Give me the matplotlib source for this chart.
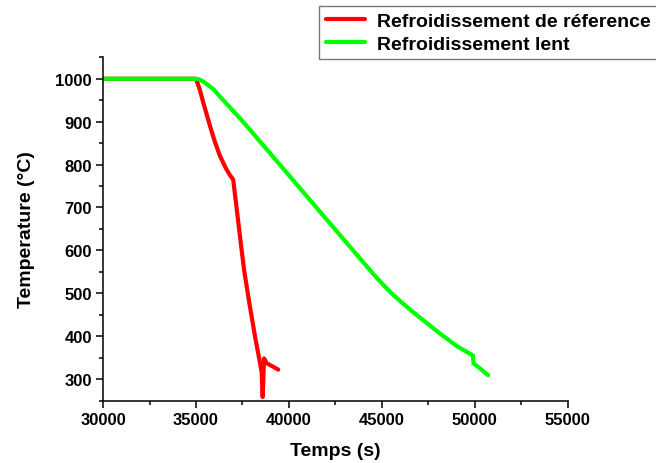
import matplotlib
matplotlib.use('Agg')
import matplotlib.pyplot as plt
from matplotlib.ticker import MultipleLocator

# cooling curves
ref_t = [30000, 35000, 35200, 35392, 35752, 36000, 36290, 36600, 36828, 37000,
         37150, 37365, 37580, 37866, 38172, 38441, 38533, 38587, 38660, 38800,
         39100, 39425]
ref_T = [1000, 1000, 975, 944, 890, 855, 820, 792, 775, 765,
         711, 633, 556, 478, 400, 338, 315, 258, 348, 337,
         330, 322]

slow_t = [30000, 34900, 35150, 35400, 35650, 35930, 36300, 36828, 37300, 37726,
          40057, 41848, 43646, 44500, 45000, 45500, 46000, 46600, 47229, 48100,
          49026, 49900, 49930, 50720]
slow_T = [1000, 1000, 999, 993, 985, 976, 958, 933, 911, 890,
          772, 681, 590, 547, 523, 501, 481, 459, 437, 407,
          377, 355, 337, 309]

labels = ['Refroidissement de réference', 'Refroidissement lent']

params = {
    'font.family': ['Liberation Sans', 'DejaVu Sans'],
    'font.weight': 'bold',
    'axes.labelweight': 'bold',
    'axes.linewidth': 1.1,
    'xtick.labelsize': 12,
    'ytick.labelsize': 12,
    'axes.labelsize': 14,
}
plt.rcParams.update(params)

fig = plt.figure(figsize=(6.56, 4.64), dpi=100)
ax = fig.add_axes([103.1 / 656, 1 - 401.5 / 464, (567.7 - 103.1) / 656, (401.5 - 58.3) / 464])

ax.plot(ref_t, ref_T, color='#ff0000', lw=3, label=labels[0],
        solid_capstyle='round', solid_joinstyle='round')
ax.plot(slow_t, slow_T, color='#00ff00', lw=3, label=labels[1],
        solid_capstyle='round', solid_joinstyle='round')

ax.set_xlim(30000, 55000)
ax.set_ylim(250, 1050)
ax.xaxis.set_major_locator(MultipleLocator(5000))
ax.xaxis.set_minor_locator(MultipleLocator(2500))
ax.set_yticks(range(300, 1001, 100))
ax.yaxis.set_minor_locator(MultipleLocator(50))
ax.tick_params(which='major', direction='out', length=5, width=1.1, pad=3)
ax.tick_params(which='minor', direction='out', length=3, width=1.1)
ax.spines['top'].set_visible(False)
ax.spines['right'].set_visible(False)

ax.set_xlabel('Temps (s)', labelpad=11)
ax.set_ylabel('Temperature (°C)', labelpad=15)

leg = fig.legend(loc='upper left', bbox_to_anchor=(319.3 / 656, 1 - 6.7 / 464),
                 borderaxespad=0, fontsize=14, handlelength=2.0, handletextpad=0.6,
                 labelspacing=0.25, borderpad=0.35, fancybox=False)
leg.get_frame().set_edgecolor('#555555')
leg.get_frame().set_linewidth(1.0)

plt.savefig('out.png', dpi=100)
